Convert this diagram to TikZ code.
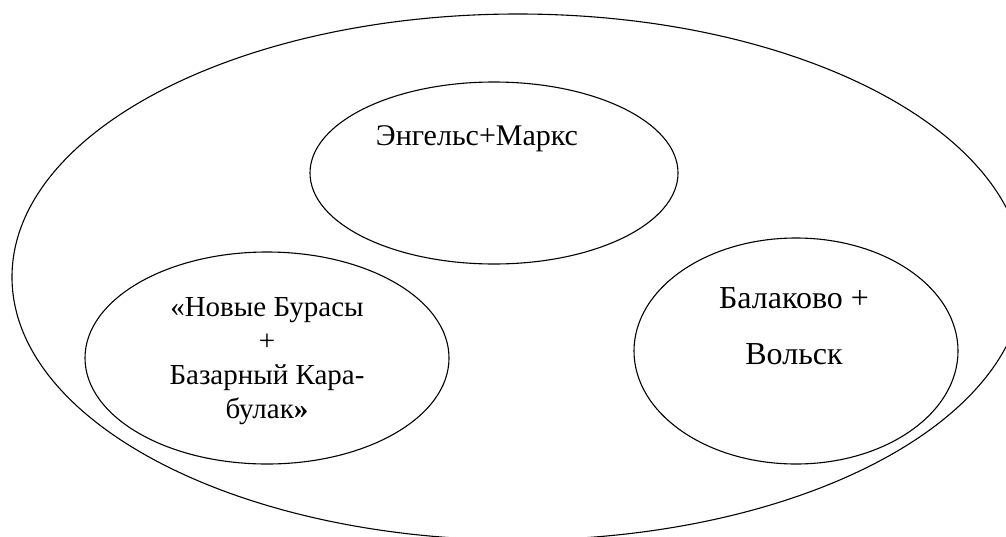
\documentclass[tikz,border=0pt]{standalone}
\usepackage{fontspec}
\setmainfont{Liberation Serif}
\usetikzlibrary{positioning}

\begin{document}
\begin{tikzpicture}[x=1pt,y=-1pt,line width=1.1pt,
  zone/.style={draw,line width=1.1pt},
  label/.style={inner sep=0pt,align=center}]

\useasboundingbox (0,0) rectangle (1006,536);
\clip (0,0) rectangle (1006,536);

\coordinate (O) at (518,277);
\coordinate (E) at (494,173);
\coordinate (L) at (267,358);
\coordinate (R) at (796,351);

% outer region and the three groups
\draw[zone] (O) ellipse [x radius=506,y radius=263];
\draw[zone] (E) ellipse [x radius=184,y radius=91];
\draw[zone] (L) ellipse [x radius=182,y radius=106];
\draw[zone] (R) ellipse [x radius=162,y radius=113];

\node[label,anchor=base,font=\fontsize{30}{34}\selectfont] (engels) at (477,145)
  {Энгельс+Маркс};
\node[label,anchor=north,font=\fontsize{29}{34}\selectfont] (buras) at (267,297)
  {«Новые Бурасы\\+\\Базарный Кара-\\булак\textbf{»}};
\node[label,anchor=base,font=\fontsize{32}{36}\selectfont] (balak) at (794,308)
  {Балаково +};
\node[label,anchor=base,font=\fontsize{32}{36}\selectfont] (volsk) at (794,364)
  {Вольск};

\end{tikzpicture}
\end{document}
